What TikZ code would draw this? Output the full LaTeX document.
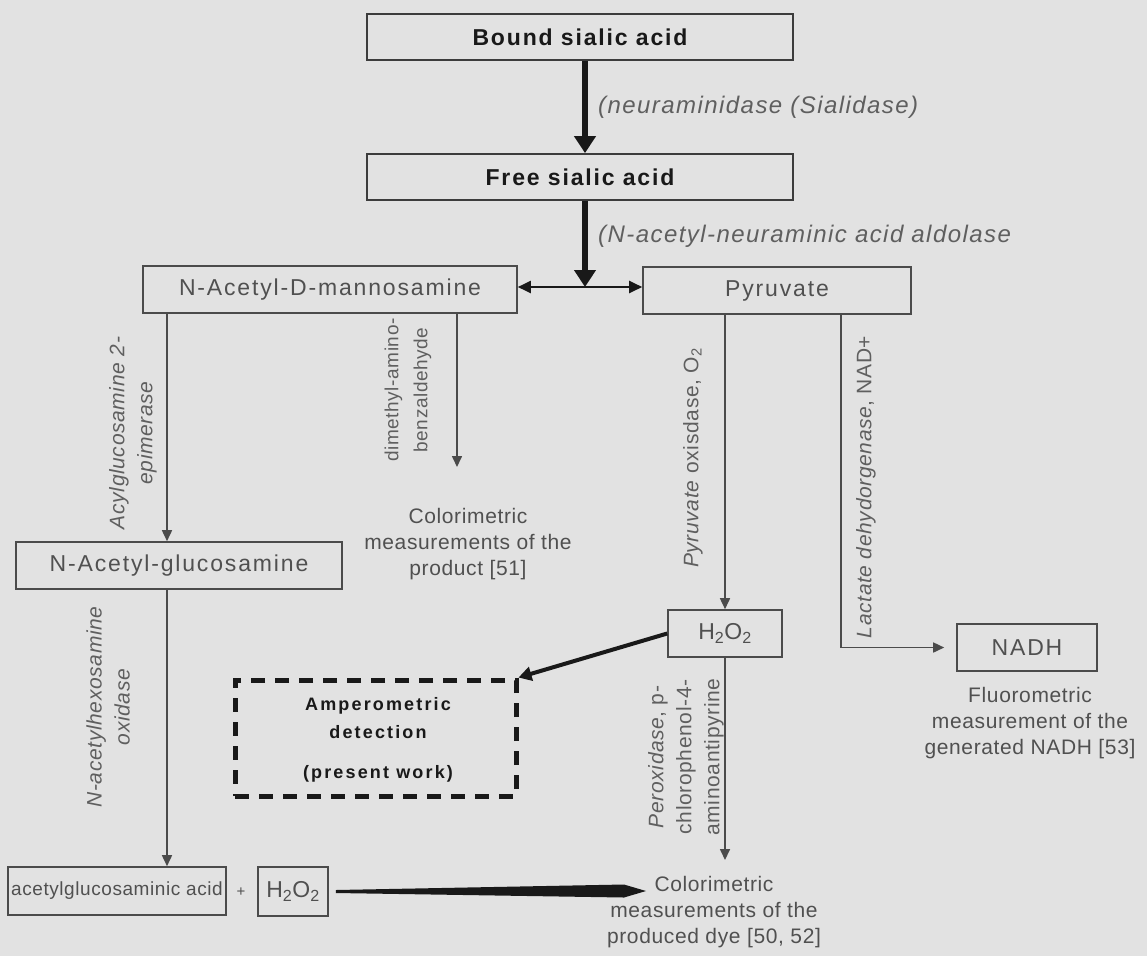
\documentclass[tikz,border=0pt]{standalone}
\usepackage{fontspec}
\setmainfont{Liberation Sans}
\newfontfamily\boxfont[LetterSpace=8]{Liberation Sans}
\newfontfamily\toplblfont[LetterSpace=6]{Liberation Sans}
\newfontfamily\lblfont[LetterSpace=3]{Liberation Sans}
\newfontfamily\ampfont[LetterSpace=12]{Liberation Sans}
\usetikzlibrary{arrows.meta,calc}
\definecolor{bgc}{RGB}{226,226,226}
\definecolor{txt}{RGB}{80,80,80}
\definecolor{lbl}{RGB}{95,95,95}
\definecolor{edge}{RGB}{75,75,75}
\definecolor{dark}{RGB}{25,25,25}
\tikzset{
  pbox/.style={draw=edge, line width=1.6pt, inner sep=0pt, text=txt, font=\boxfont\fontsize{23}{27}\selectfont},
  tbox/.style={draw=dark!85, line width=1.8pt, inner sep=0pt, text=dark, font=\boxfont\bfseries\fontsize{23}{27}\selectfont},
  lbl/.style={text=lbl, font=\lblfont\fontsize{21}{28}\selectfont, align=center, inner sep=0pt},
  ilbl/.style={text=lbl, font=\lblfont\itshape\fontsize{21}{28}\selectfont, align=center, inner sep=0pt},
  toplbl/.style={text=lbl, font=\toplblfont\itshape\fontsize{24}{28}\selectfont, inner sep=0pt, anchor=west},
  meas/.style={text=txt, font=\lblfont\fontsize{21}{26}\selectfont, align=center, inner sep=0pt},
  flow/.style={draw=edge, line width=1.6pt, -{Triangle[width=10pt,length=11pt]}},
  thickarr/.style={draw=dark, line width=6.5pt, -{Triangle[width=21pt,length=17pt]}},
  medarr/.style={draw=dark, line width=4pt, -{Triangle[width=14pt,length=13pt]}},
}
\begin{document}
\begin{tikzpicture}[x=1pt,y=-1pt]
\fill[bgc] (0,0) rectangle (1147,956);
\useasboundingbox (0,0) rectangle (1147,956);

% boxes
\node[tbox, minimum width=426pt, minimum height=46pt] (bound) at (580,37) {Bound sialic acid};
\node[tbox, minimum width=426pt, minimum height=46pt] (free) at (580,177) {Free sialic acid};
\node[pbox, minimum width=374pt, minimum height=47pt] (mann) at (330,289.5) {N-Acetyl-D-mannosamine};
\node[pbox, minimum width=268pt, minimum height=47pt] (pyr) at (777,290.5) {Pyruvate};
\node[pbox, minimum width=326pt, minimum height=47pt] (glc) at (179,565.5) {N-Acetyl-glucosamine};
\node[pbox, font=\lblfont\fontsize{19}{23}\selectfont, minimum width=218pt, minimum height=48pt] (acid) at (117,891) {acetylglucosaminic acid};
\node[text=txt, font=\fontsize{15}{18}\selectfont, inner sep=0pt] (plus) at (241,892) {+};
\node[pbox, minimum width=70pt, minimum height=49pt] (h2b) at (293,891.5) {H\textsubscript{2}O\textsubscript{2}};
\node[pbox, minimum width=114pt, minimum height=47pt] (h2m) at (725,633.5) {H\textsubscript{2}O\textsubscript{2}};
\node[pbox, minimum width=140pt, minimum height=47pt] (nadh) at (1027,647.5) {NADH};
\node[draw=dark, line width=5pt, dash pattern=on 14pt off 10pt, minimum width=281pt, minimum height=116pt, inner sep=0pt] (amp) at (375.5,738) {};
\node[text=dark, font=\ampfont\bfseries\fontsize{18}{28}\selectfont, align=center, inner sep=0pt] (ampt) at (378,740) {Amperometric\\detection\\[12pt](present work)};

% measurement texts
\node[meas] (col1) at (468,544) {Colorimetric\\measurements of the\\product [51]};
\node[meas] (col2) at (714,912) {Colorimetric\\measurements of the\\produced dye [50, 52]};
\node[meas] (fluo) at (1030,723) {Fluorometric\\measurement of the\\generated NADH [53]};

% labels
\node[toplbl] (l1) at (598,107) {(neuraminidase (Sialidase)};
\node[toplbl] (l2) at (598,236) {(N-acetyl-neuraminic acid aldolase};
\node[ilbl, rotate=90] (l3) at (133,433) {Acylglucosamine 2-\\epimerase};
\node[lbl, font=\lblfont\fontsize{19}{29}\selectfont, rotate=90] (l4) at (408,390) {dimethyl-amino-\\benzaldehyde};
\node[ilbl, rotate=90] (l5) at (108,707) {N-acetylhexosamine\\oxidase};
\node[lbl, rotate=90] (l6) at (693,458) {\textit{Pyruvate} oxisdase, O\textsubscript{2}};
\node[lbl, rotate=90] (l7) at (866,487) {\textit{Lactate dehydorgenase}, NAD+};
\node[lbl, rotate=90] (l8) at (686,757) {\textit{Peroxidase}, p-\\chlorophenol-4-\\aminoantipyrine};

% coordinates
\coordinate (cx) at (585,0);
\coordinate (junc) at (585,287);
\coordinate (m1) at (167,0);
\coordinate (m2) at (457,0);
\coordinate (p2) at (841,0);
\coordinate (colTip) at (457,467);
\coordinate (dyeTip) at (725,860);
\coordinate (wtip) at (646,891);

% connectors
\draw[thickarr] (bound.south -| cx) -- (free.north -| cx);
\draw[thickarr] (free.south -| cx) -- (junc);
\draw[draw=dark, line width=2pt, {Triangle[width=12pt,length=13pt]}-{Triangle[width=12pt,length=13pt]}] (mann.east |- junc) -- (pyr.west |- junc);
\draw[flow] (mann.south -| m1) -- (glc.north -| m1);
\draw[flow] (mann.south -| m2) -- (colTip);
\draw[flow] (glc.south -| m1) -- (acid.north -| m1);
\draw[flow] (pyr.south -| h2m) -- (h2m.north);
\draw[flow] (h2m.south) -- (dyeTip);
\draw[flow, shorten >=12pt] (pyr.south -| p2) |- (nadh.west);
\draw[medarr] (h2m.west) -- (amp.north east);
\fill[dark] ($(h2b.east)+(7,-1.5)$) -- ($(wtip)+(-22,-6.5)$) -- (wtip) -- ($(wtip)+(-22,6.5)$) -- ($(h2b.east)+(7,1.5)$) -- cycle;
\end{tikzpicture}
\end{document}
